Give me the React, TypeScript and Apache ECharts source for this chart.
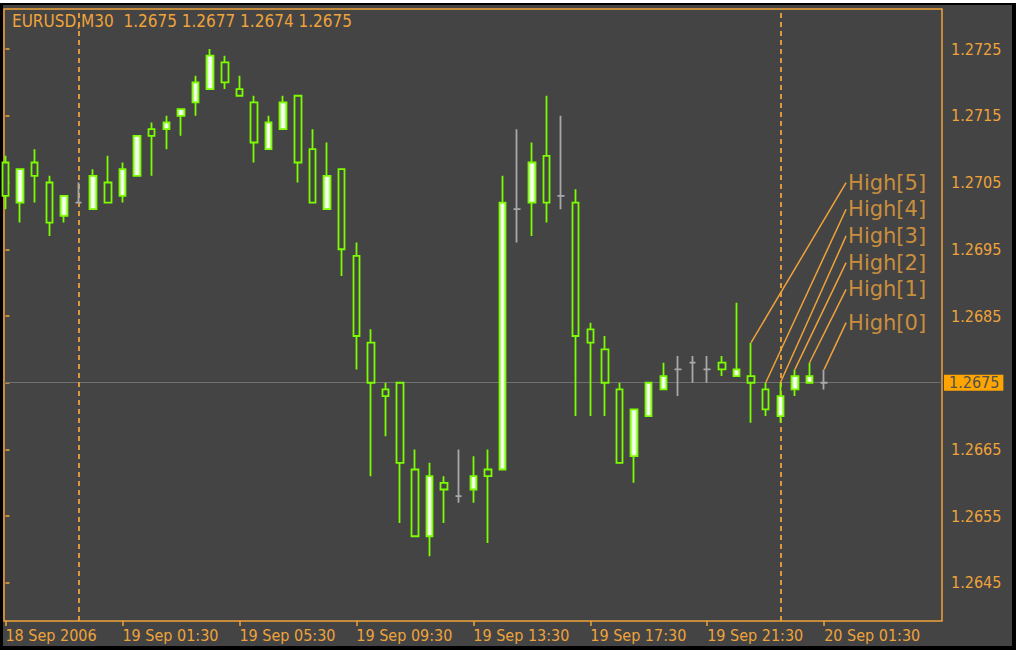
import React, { useEffect, useRef } from 'react';
import * as echarts from 'echarts';

const symbolName = 'EURUSD';
const periodName = 'M30';

const opens = [1.2708, 1.2702, 1.2708, 1.2705, 1.2700, 1.2702, 1.2701, 1.2705, 1.2703, 1.2706,
  1.2713, 1.2713, 1.2715, 1.2717, 1.2719, 1.2723, 1.2719, 1.2717, 1.2710, 1.2713,
  1.2718, 1.2710, 1.2701, 1.2707, 1.2694, 1.2681, 1.2674, 1.2675, 1.2662, 1.2652,
  1.2660, 1.2658, 1.2659, 1.2662, 1.2662, 1.2701, 1.2702, 1.2709, 1.2703, 1.2702,
  1.2683, 1.2680, 1.2674, 1.2664, 1.2670, 1.2674, 1.2677, 1.2678, 1.2677, 1.2678,
  1.2676, 1.2676, 1.2674, 1.2670, 1.2674, 1.2675, 1.2675];
const highs = [1.2709, 1.2707, 1.2710, 1.2706, 1.2703, 1.2705, 1.2707, 1.2709, 1.2708, 1.2712,
  1.2714, 1.2715, 1.2716, 1.2721, 1.2725, 1.2724, 1.2721, 1.2718, 1.2715, 1.2718,
  1.2718, 1.2713, 1.2711, 1.2707, 1.2696, 1.2683, 1.2675, 1.2675, 1.2665, 1.2663,
  1.2661, 1.2665, 1.2664, 1.2665, 1.2706, 1.2713, 1.2711, 1.2718, 1.2715, 1.2704,
  1.2684, 1.2682, 1.2675, 1.2671, 1.2675, 1.2678, 1.2679, 1.2679, 1.2679, 1.2679,
  1.2687, 1.2681, 1.2675, 1.2675, 1.2677, 1.2678, 1.2677];
const lows = [1.2701, 1.2699, 1.2702, 1.2697, 1.2699, 1.2702, 1.2701, 1.2702, 1.2702, 1.2706,
  1.2706, 1.2710, 1.2712, 1.2715, 1.2719, 1.2719, 1.2718, 1.2708, 1.2710, 1.2713,
  1.2705, 1.2702, 1.2701, 1.2691, 1.2677, 1.2661, 1.2667, 1.2654, 1.2652, 1.2649,
  1.2654, 1.2657, 1.2657, 1.2651, 1.2662, 1.2696, 1.2697, 1.2699, 1.2701, 1.2670,
  1.2670, 1.2670, 1.2663, 1.2660, 1.2670, 1.2674, 1.2673, 1.2675, 1.2675, 1.2676,
  1.2676, 1.2669, 1.2670, 1.2669, 1.2673, 1.2675, 1.2674];
const closes = [1.2703, 1.2707, 1.2706, 1.2699, 1.2703, 1.2702, 1.2706, 1.2702, 1.2707, 1.2712,
  1.2712, 1.2714, 1.2716, 1.2720, 1.2724, 1.2720, 1.2718, 1.2711, 1.2714, 1.2717,
  1.2708, 1.2702, 1.2706, 1.2695, 1.2682, 1.2675, 1.2673, 1.2663, 1.2652, 1.2661,
  1.2659, 1.2658, 1.2661, 1.2661, 1.2702, 1.2701, 1.2708, 1.2702, 1.2703, 1.2682,
  1.2681, 1.2675, 1.2663, 1.2671, 1.2675, 1.2676, 1.2677, 1.2678, 1.2677, 1.2677,
  1.2677, 1.2675, 1.2671, 1.2673, 1.2676, 1.2676, 1.2675];

const xTickIndex = [0, 8, 16, 24, 32, 40, 48, 56];
const xTickLabels = ['18 Sep 2006', '19 Sep 01:30', '19 Sep 05:30', '19 Sep 09:30',
  '19 Sep 13:30', '19 Sep 17:30', '19 Sep 21:30', '20 Sep 01:30'];
const daySeparators = [5, 53];
const yTicks = [1.2645, 1.2655, 1.2665, 1.2675, 1.2685, 1.2695, 1.2705, 1.2715, 1.2725];
const bidPrice = 1.2675;

const highLabelNames = ['High[5]', 'High[4]', 'High[3]', 'High[2]', 'High[1]', 'High[0]'];
const highLabelBars = [51, 52, 53, 54, 55, 56];
const highLabelPrices = [1.2705, 1.2701, 1.2697, 1.2693, 1.2689, 1.2684];
const highLabelX = 57.5;

const ORANGE = '#eea33b';
const GREEN = '#7cfc00';
const DOJI = '#a9a9a9';
const BG = '#444444';
const FONT = "'DejaVu Sans Condensed', 'DejaVu Sans', sans-serif";

export default function App() {
  const ref = useRef<HTMLDivElement>(null);

  useEffect(() => {
    if (!ref.current) return;
    const chart = echarts.init(ref.current, null, { renderer: 'svg' });
    const n = opens.length - 1;
    const candleData = opens.map((o, i) => {
      const item: any = { value: [i, o, closes[i], lows[i], highs[i]] };
      if (o === closes[i]) {
        item.itemStyle = { color: DOJI, color0: DOJI, borderColor: DOJI, borderColor0: DOJI };
      }
      return item;
    });
    const bullFill = new echarts.graphic.LinearGradient(0, 0, 1, 0, [
      { offset: 0, color: '#c4f89a' },
      { offset: 0.5, color: '#ffffff' },
      { offset: 1, color: '#c4f89a' },
    ]);
    const option: any = {
      animation: false,
      backgroundColor: BG,
      textStyle: { fontFamily: FONT },
      title: {
        text: `${symbolName},${periodName}  ${opens[n].toFixed(4)} ${highs[n].toFixed(4)} ${lows[n].toFixed(4)} ${closes[n].toFixed(4)}`,
        left: 12, top: 12, padding: 0,
        textStyle: { color: ORANGE, fontSize: 17, fontWeight: 'normal', fontFamily: FONT },
      },
      graphic: [
        { type: 'rect', shape: { x: 0, y: 0, width: 1016, height: 3 }, style: { fill: '#ffffff' }, silent: true },
        { type: 'rect', shape: { x: 0, y: 3, width: 1016, height: 2 }, style: { fill: '#000000' }, silent: true },
        { type: 'rect', shape: { x: 0, y: 3, width: 3, height: 647 }, style: { fill: '#000000' }, silent: true },
        { type: 'rect', shape: { x: 1012, y: 3, width: 4, height: 647 }, style: { fill: '#000000' }, silent: true },
        { type: 'rect', shape: { x: 0, y: 646, width: 1016, height: 4 }, style: { fill: '#000000' }, silent: true },
      ],
      grid: { left: 4, right: 74, top: 9, bottom: 29, show: true, borderColor: ORANGE, borderWidth: 1.5, backgroundColor: 'transparent' },
      xAxis: {
        type: 'value', min: -0.1, max: 64.06,
        splitLine: { show: false }, axisLine: { show: false },
        axisTick: { show: true, customValues: xTickIndex, length: 5, lineStyle: { color: ORANGE, width: 1.5 } },
        axisLabel: {
          customValues: xTickIndex,
          formatter: (v: number) => xTickLabels[xTickIndex.indexOf(Math.round(v))] ?? '',
          align: 'left', color: ORANGE, fontSize: 16, margin: 6, fontFamily: FONT,
        },
      },
      yAxis: {
        type: 'value', position: 'right', min: 1.26393, max: 1.2731, scale: true,
        splitLine: { show: false }, axisLine: { show: false },
        axisTick: { show: true, customValues: yTicks, length: 4, lineStyle: { color: ORANGE, width: 1.5 } },
        axisLabel: {
          customValues: yTicks.filter((v) => v !== bidPrice),
          formatter: (v: number) => v.toFixed(4),
          color: ORANGE, fontSize: 16, margin: 9, fontFamily: FONT,
        },
      },
      series: [
        {
          type: 'line',
          z: 1,
          silent: true,
          symbol: 'none',
          data: [],
          markLine: {
            silent: true, symbol: 'none', animation: false, precision: 4, z: 1,
            data: [
              {
                yAxis: bidPrice,
                lineStyle: { color: '#707070', width: 1, type: 'solid' },
                label: {
                  show: true, position: 'end', distance: 2,
                  formatter: bidPrice.toFixed(4),
                  backgroundColor: '#ffa500', color: '#505050', fontSize: 16,
                  padding: [0, 4, 0, 5], fontFamily: FONT,
                },
              },
              ...daySeparators.map((d) => ({
                xAxis: d,
                lineStyle: { color: ORANGE, width: 1.8, type: [5, 4] },
                label: { show: false },
              })),
            ],
          },
        },
        {
          type: 'candlestick',
          z: 3,
          barWidth: 7,
          data: candleData,
          itemStyle: { color: bullFill, color0: BG, borderColor: GREEN, borderColor0: GREEN, borderWidth: 1.8 },
        },
        {
          type: 'lines',
          coordinateSystem: 'cartesian2d',
          silent: true,
          z: 4,
          lineStyle: { color: ORANGE, width: 1.5, opacity: 1, curveness: 0 },
          data: highLabelBars.map((b, k) => ({ coords: [[b, highs[b]], [highLabelX, highLabelPrices[k]]] })),
        },
        {
          type: 'scatter',
          silent: true,
          z: 5,
          symbolSize: 0,
          data: highLabelPrices.map((p, k) => ({ name: highLabelNames[k], value: [highLabelX, p] })),
          label: {
            show: true, position: 'right', distance: 2, formatter: '{b}',
            color: ORANGE, fontSize: 21, fontFamily: "'DejaVu Sans', sans-serif",
          },
        },
      ],
    };
    chart.setOption(option);
    return () => chart.dispose();
  }, []);

  return (
    <div
      ref={ref}
      style={{ position: 'absolute', left: 0, top: 0, width: 1016, height: 650 }}
    />
  );
}
